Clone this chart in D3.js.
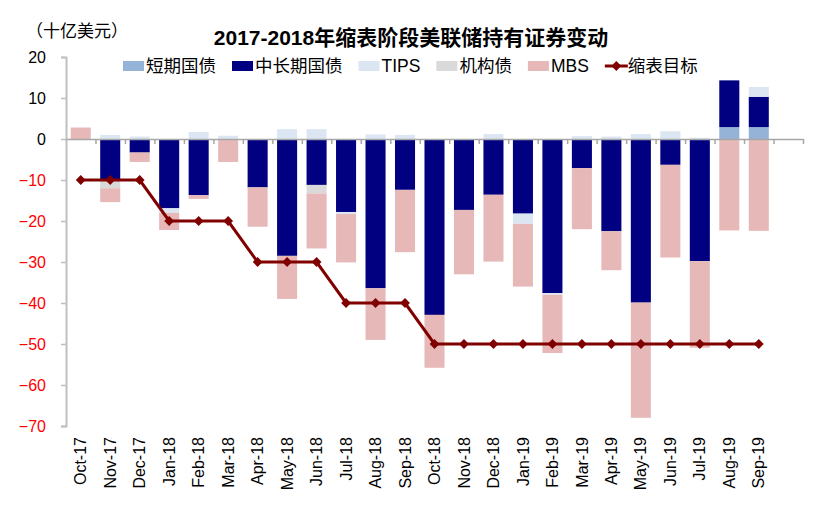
<!DOCTYPE html>
<html>
<head>
<meta charset="utf-8">
<script src="https://cdn.jsdelivr.net/npm/d3@7"></script>
<style>
  body { margin: 0; background: #fff; }
  text { font-family: 'Liberation Sans', Arial, 'Noto Sans CJK SC', sans-serif; }
</style>
</head>
<body>
<div id="chart"></div>
<script>
// months shown on the x axis (one empty slot at the end, like the original)
const months = ['Oct-17', 'Nov-17', 'Dec-17', 'Jan-18', 'Feb-18', 'Mar-18', 'Apr-18', 'May-18', 'Jun-18',
  'Jul-18', 'Aug-18', 'Sep-18', 'Oct-18', 'Nov-18', 'Dec-18', 'Jan-19', 'Feb-19', 'Mar-19', 'Apr-19',
  'May-19', 'Jun-19', 'Jul-19', 'Aug-19', 'Sep-19']

// monthly change of holdings, billion USD
const shortTerm = [0, 0, 0, 0, 0, 0, 0, 0, 0, 0, 0, 0, 0, 0, 0, 0, 0, 0, 0, 0, 0, 0, 2.9, 2.9]
const midLong = [0, -9.8, -3.3, -16.9, -13.7, 0, -11.8, -28.5, -11.2, -17.8, -36.4, -12.4, -42.9, -17.3,
  -13.6, -18.2, -37.6, -7.1, -22.5, -39.9, -6.3, -29.8, 11.4, 7.4]
const tips = [0, 1.0, 0.6, -1.1, 1.7, 0.8, 0, 2.4, 2.4, -0.5, 1.1, 1.0, 0, 0, 1.2, -2.5, -0.4, 0.7, 0.6,
  1.2, 1.9, 0.3, 0, 2.4]
const agency = [0, -2.2, 0, 0, 0, 0, 0, 0, -2.1, 0, 0, 0, 0, 0, 0, 0, 0, 0, 0, 0, 0, 0, 0, 0]
const mbs = [2.8, -3.4, -2.3, -4.2, -0.9, -5.6, -9.6, -10.5, -13.4, -11.8, -12.6, -15.2, -12.9, -15.7,
  -16.3, -15.3, -14.2, -14.9, -9.5, -28.1, -22.6, -21.1, -22.3, -22.4]
const target = [-10, -10, -10, -20, -20, -20, -30, -30, -30, -40, -40, -40, -50, -50, -50, -50, -50, -50,
  -50, -50, -50, -50, -50, -50]

const yTicks = [20, 10, 0, -10, -20, -30, -40, -50, -60, -70]

const series = [
  { key: 'short', name: '短期国债', color: '#95B3D7', values: shortTerm },
  { key: 'mid', name: '中长期国债', color: '#000080', values: midLong },
  { key: 'tips', name: 'TIPS', color: '#DCE6F2', values: tips },
  { key: 'agency', name: '机构债', color: '#D9D9D9', values: agency },
  { key: 'mbs', name: 'MBS', color: '#E6B9B8', values: mbs }
]
const lineColor = '#800000'

const W = 821
const H = 519
const left = 66
const right = 803

const svg = d3.select('#chart')
  .append('svg')
  .attr('width', W)
  .attr('height', H)

// table for d3.stack
const table = months.map((m, i) => {
  const row = { month: m }
  series.forEach(s => { row[s.key] = s.values[i] })
  return row
})

const slots = months.concat([''])

const x = d3.scaleBand()
  .domain(slots)
  .range([left, right])
  .paddingInner(0.32)
  .paddingOuter(0.16)

const y = d3.scaleLinear()
  .domain([-70, 20])
  .range([426, 57])

const stacked = d3.stack()
  .keys(series.map(s => s.key))
  .offset(d3.stackOffsetDiverging)(table)

// bars
svg.append('g')
  .selectAll('g')
  .data(stacked)
  .join('g')
  .attr('fill', (d, i) => series[i].color)
  .selectAll('rect')
  .data(d => d)
  .join('rect')
  .attr('x', d => x(d.data.month))
  .attr('y', d => y(Math.max(d[0], d[1])))
  .attr('width', x.bandwidth())
  .attr('height', d => Math.abs(y(d[0]) - y(d[1])))

// y axis
const yAxis = svg.append('g')
  .attr('transform', `translate(${left}, 0)`)
  .call(d3.axisLeft(y).tickValues(yTicks).tickSize(5).tickPadding(15).tickFormat(d3.format('d')))
yAxis.select('.domain').attr('stroke', '#BFBFBF').attr('stroke-width', 2)
yAxis.selectAll('.tick line').attr('stroke', '#BFBFBF').attr('stroke-width', 1.5)
yAxis.selectAll('.tick text')
  .style('font-size', '16px')
  .attr('fill', d => d < 0 ? '#FF0000' : '#000')

// x axis on the zero line, ticks between categories
const xTick = d3.scaleLinear().domain([0, slots.length]).range([left, right])
const xAxis = svg.append('g')
  .attr('transform', `translate(0, ${y(0)})`)
  .call(d3.axisBottom(xTick).tickValues(d3.range(1, slots.length + 1)).tickSize(5).tickSizeOuter(0).tickFormat(''))
xAxis.select('.domain').attr('stroke', '#A6A6A6').attr('stroke-width', 1.5)
xAxis.selectAll('.tick line').attr('stroke', '#A6A6A6').attr('stroke-width', 1.5)

// month labels at the bottom
svg.append('g')
  .selectAll('text')
  .data(months)
  .join('text')
  .attr('transform', d => `translate(${x(d) + x.bandwidth() / 2}, 437) rotate(-90)`)
  .attr('text-anchor', 'end')
  .attr('dy', '0.35em')
  .style('font-size', '16px')
  .attr('fill', '#000')
  .text(d => d)

// target line
const cx = m => x(m) + x.bandwidth() / 2
svg.append('path')
  .datum(target)
  .attr('fill', 'none')
  .attr('stroke', lineColor)
  .attr('stroke-width', 3)
  .attr('d', d3.line()
    .x((d, i) => cx(months[i]))
    .y(d => y(d)))

const diamond = d3.symbol().type(d3.symbolSquare).size(48)
svg.append('g')
  .selectAll('path')
  .data(target)
  .join('path')
  .attr('d', diamond)
  .attr('transform', (d, i) => `translate(${cx(months[i])}, ${y(d)}) rotate(45)`)
  .attr('fill', lineColor)

// title and unit
svg.append('text')
  .attr('x', 411)
  .attr('y', 45)
  .attr('text-anchor', 'middle')
  .style('font-size', '21px')
  .style('font-weight', 'bold')
  .attr('fill', '#000')
  .text('2017-2018年缩表阶段美联储持有证券变动')

svg.append('text')
  .attr('x', 26)
  .attr('y', 37)
  .style('font-size', '17px')
  .attr('fill', '#000')
  .text('（十亿美元）')

// legend, laid out left to right
const legend = svg.append('g')
let lx = 123
const legendItems = series.map(s => ({ name: s.name, color: s.color, type: 'bar' }))
  .concat([{ name: '缩表目标', color: lineColor, type: 'line' }])
legendItems.forEach(item => {
  if (item.type === 'bar') {
    legend.append('rect')
      .attr('x', lx).attr('y', 61).attr('width', 21).attr('height', 10)
      .attr('fill', item.color)
  } else {
    legend.append('line')
      .attr('x1', lx).attr('x2', lx + 23).attr('y1', 66).attr('y2', 66)
      .attr('stroke', item.color).attr('stroke-width', 3)
    legend.append('path')
      .attr('d', diamond)
      .attr('transform', `translate(${lx + 11.5}, 66) rotate(45)`)
      .attr('fill', item.color)
  }
  const t = legend.append('text')
    .attr('x', lx + 23)
    .attr('y', 72)
    .style('font-size', '17.5px')
    .attr('fill', '#000')
    .text(item.name)
  lx += 23 + t.node().getComputedTextLength() + 16
})
</script>
</body>
</html>
